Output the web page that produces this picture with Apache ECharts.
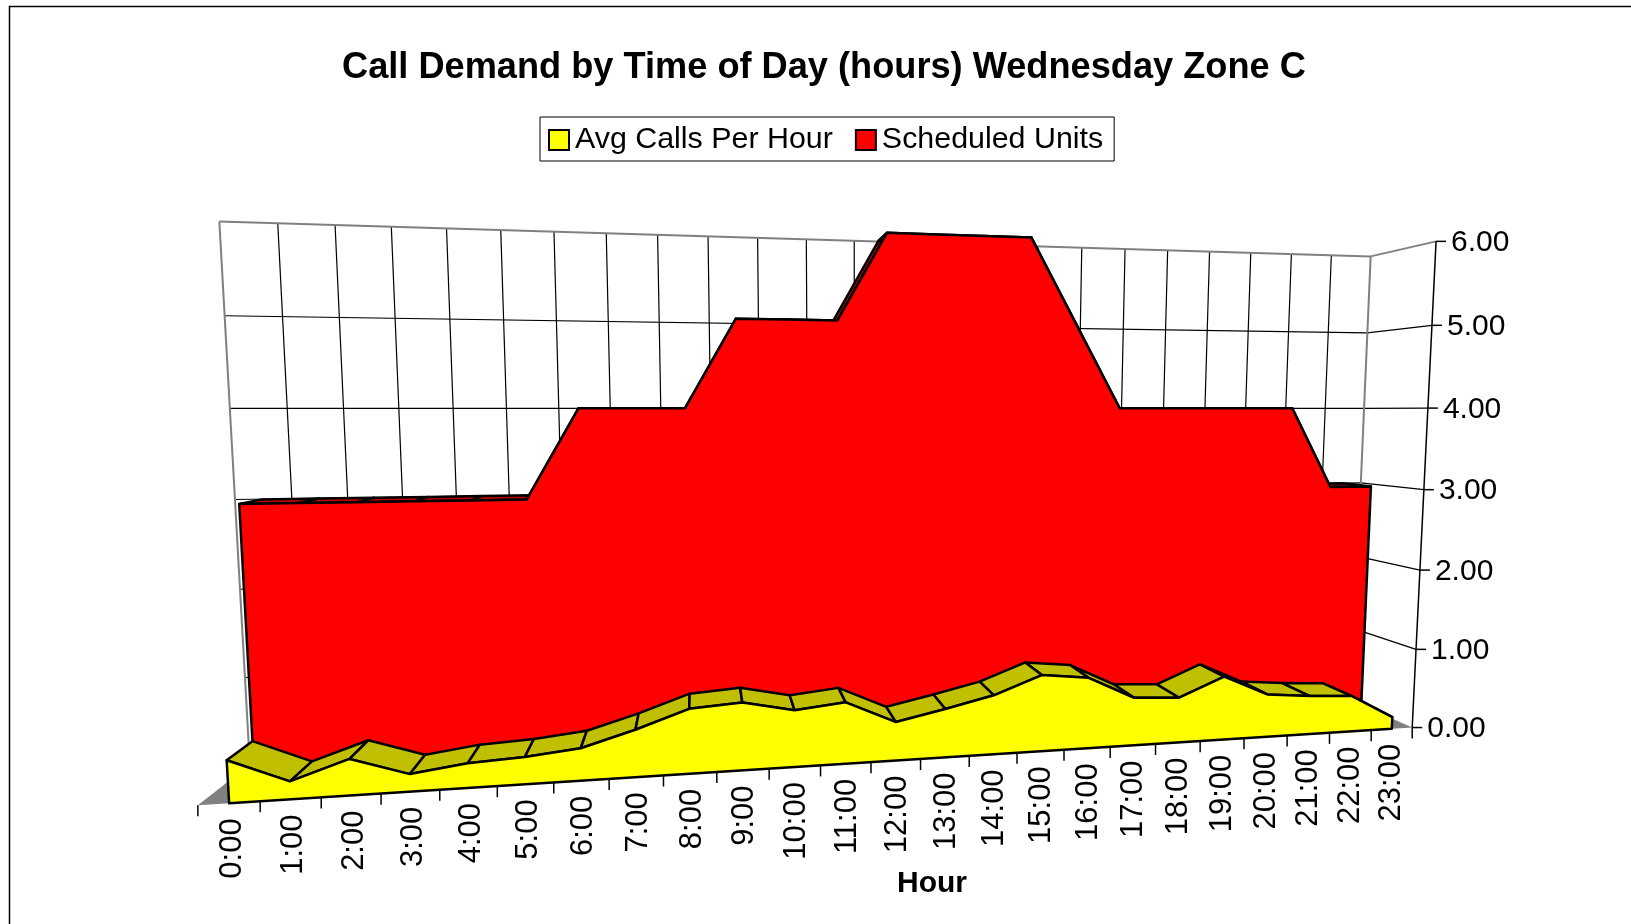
<!DOCTYPE html>
<html>
<head>
<meta charset="utf-8">
<title>Call Demand by Time of Day</title>
<style>
  html, body { margin: 0; padding: 0; background: #fff; }
  #chart { width: 1631px; height: 924px; }
</style>
<script src="https://cdn.jsdelivr.net/npm/echarts@6/dist/echarts.min.js"></script>
</head>
<body>
<div id="chart"></div>
<script>
const hours = ['0:00', '1:00', '2:00', '3:00', '4:00', '5:00', '6:00', '7:00', '8:00', '9:00', '10:00', '11:00',
  '12:00', '13:00', '14:00', '15:00', '16:00', '17:00', '18:00', '19:00', '20:00', '21:00', '22:00', '23:00'];
const avgCalls = [0.45, 0.19, 0.39, 0.19, 0.27, 0.30, 0.36, 0.53, 0.73, 0.77, 0.65, 0.71,
  0.45, 0.57, 0.70, 0.91, 0.85, 0.58, 0.55, 0.78, 0.53, 0.48, 0.45, 0.15];
const scheduledUnits = [3, 3, 3, 3, 3, 3, 4, 4, 4, 5, 5, 5, 6, 6, 6, 6, 5, 4, 4, 4, 4, 4, 3, 3];
const valueTicks = [0, 1, 2, 3, 4, 5, 6];
const FONT = '"Liberation Sans", Arial, sans-serif';

// Camera: box corners (band, value, depth) seen on the page, solved for a perspective matrix below
const cameraFit = [
  [0, 0, 0, 197.6, 805], [12, 0, 0, 871, 763], [24, 0, 0, 1412.3, 726.7],
  [24, 2, 0, 1420, 570], [24, 4, 0, 1428, 408], [24, 6, 0, 1436, 242],
  [0, 0, 1, 250, 765], [24, 0, 1, 1351, 701], [0, 4, 1, 231, 408], [24, 4, 1, 1364.7, 408],
  [6, 4, 1, 558.6, 408], [18, 4, 1, 1120.9, 408], [0, 6, 1, 218.6, 221.7], [24, 6, 1, 1370.7, 256.7]
];

function solveCamera(points) {
  const n = 11;
  const A = Array.from({ length: n }, () => new Array(n + 1).fill(0));
  const addRow = (row, rhs) => {
    for (let i = 0; i < n; i++) {
      for (let j = 0; j < n; j++) A[i][j] += row[i] * row[j];
      A[i][n] += row[i] * rhs;
    }
  };
  points.forEach(([x, y, z, u, v]) => {
    const X = x / 24, Y = y / 6, U = u / 1000, V = v / 1000;
    addRow([X, Y, z, 1, 0, 0, 0, 0, -U * X, -U * Y, -U * z], U);
    addRow([0, 0, 0, 0, X, Y, z, 1, -V * X, -V * Y, -V * z], V);
  });
  for (let c = 0; c < n; c++) {
    let best = c;
    for (let r = c + 1; r < n; r++) if (Math.abs(A[r][c]) > Math.abs(A[best][c])) best = r;
    [A[c], A[best]] = [A[best], A[c]];
    for (let r = 0; r < n; r++) {
      if (r === c) continue;
      const f = A[r][c] / A[c][c];
      for (let k = c; k <= n; k++) A[r][k] -= f * A[c][k];
    }
  }
  return A.map((row, i) => row[n] / row[i]);
}

const cam = solveCamera(cameraFit);

function project(x, y, z) {
  const X = x / 24, Y = y / 6;
  const w = cam[8] * X + cam[9] * Y + cam[10] * z + 1;
  return [
    1000 * (cam[0] * X + cam[1] * Y + cam[2] * z + cam[3]) / w,
    1000 * (cam[4] * X + cam[5] * Y + cam[6] * z + cam[7]) / w
  ];
}

// The hidden grid holds the scales; its pixels are turned back into box units for the camera
const GRID = { left: 100, top: 100, width: 1200, height: 600 };
function toBox(api, hourIndex, value) {
  const p = api.coord([hourIndex, value]);
  return [(p[0] - GRID.left) / GRID.width * 24, (GRID.top + GRID.height - p[1]) / GRID.height * 6];
}

function seg(a, b, color, width, z2) {
  return {
    type: 'line',
    shape: { x1: a[0], y1: a[1], x2: b[0], y2: b[1] },
    style: { stroke: color, lineWidth: width },
    z2: z2 || 0
  };
}

function poly(points, fill, z2) {
  return {
    type: 'polygon',
    shape: { points },
    style: { fill, stroke: '#000', lineWidth: 2.5, lineJoin: 'round' },
    z2: z2 || 0
  };
}

// Floor, back wall, side wall and both axes
function renderFrame(params, api) {
  const kids = [];
  kids.push({
    type: 'polygon',
    shape: { points: [project(0, 0, 0), project(24, 0, 0), project(24, 0, 1), project(0, 0, 1)] },
    style: { fill: '#808080' }
  });
  for (let i = 1; i < 24; i++) {
    kids.push(seg(project(i, 0, 1), project(i, 6, 1), '#000', 1.2));
  }
  valueTicks.slice(1, -1).forEach(v => {
    const y = toBox(api, 0, v)[1];
    kids.push(seg(project(0, y, 1), project(24, y, 1), '#000', 1.2));
    kids.push(seg(project(24, y, 1), project(24, y, 0), '#000', 1.2));
  });
  kids.push(seg(project(0, 6, 1), project(24, 6, 1), '#808080', 2));
  kids.push(seg(project(24, 6, 1), project(24, 6, 0), '#808080', 2));
  kids.push(seg(project(0, 0, 1), project(0, 6, 1), '#808080', 2));
  kids.push(seg(project(24, 0, 1), project(24, 6, 1), '#808080', 2));

  kids.push(seg(project(24, 0, 0), project(24, 6, 0), '#000', 1.5));
  valueTicks.forEach(v => {
    const y = toBox(api, 0, v)[1];
    const p = project(24, y, 0);
    kids.push(seg(p, [p[0] + 10, p[1]], '#000', 1.5));
    kids.push({
      type: 'text', x: p[0] + 15, y: p[1] + 1.5,
      style: { text: v.toFixed(2), font: '30px ' + FONT, fill: '#000', align: 'left', verticalAlign: 'middle' }
    });
  });
  for (let i = 0; i <= 24; i++) {
    const p = project(i, 0, 0);
    kids.push(seg(p, [p[0], p[1] + 11], '#000', 1.5));
  }
  hours.forEach((h, i) => {
    const p = project(toBox(api, i, 0)[0], 0, 0);
    kids.push({
      type: 'text', x: p[0] + 3 * (1 - i / 23), y: p[1] + 15, rotation: Math.PI / 2,
      style: { text: h, font: '31px ' + FONT, fill: '#000', align: 'right', verticalAlign: 'middle' }
    });
  });
  return { type: 'group', children: kids };
}

// One area band: a strip on top per hour, front face over them on the last item
function areaRenderer(values, zFront, zBack, frontColor, topColor) {
  return function (params, api) {
    const i = params.dataIndex;
    const kids = [];
    const cur = toBox(api, api.value(0), api.value(1));
    if (i < values.length - 1) {
      const next = toBox(api, i + 1, values[i + 1]);
      kids.push(poly([
        project(cur[0], cur[1], zFront), project(next[0], next[1], zFront),
        project(next[0], next[1], zBack), project(cur[0], cur[1], zBack)
      ], topColor, i < 12 ? i : 24 - i));
    } else {
      const pts = values.map((v, k) => {
        const b = toBox(api, k, v);
        return project(b[0], b[1], zFront);
      });
      const first = toBox(api, 0, 0), last = toBox(api, values.length - 1, 0);
      pts.push(project(last[0], 0, zFront), project(first[0], 0, zFront));
      kids.push(poly(pts, frontColor, 100));
    }
    return { type: 'group', children: kids };
  };
}

const chart = echarts.init(document.getElementById('chart'), null, { renderer: 'canvas' });
chart.setOption({
  animation: false,
  backgroundColor: '#fff',
  title: {
    text: 'Call Demand by Time of Day (hours) Wednesday Zone C',
    left: 337, top: 45,
    textStyle: { fontFamily: FONT, fontSize: 36.2, fontWeight: 'bold', color: '#000' }
  },
  legend: {
    data: ['Avg Calls Per Hour', 'Scheduled Units'],
    left: 540, top: 117,
    padding: [8, 11, 6, 8],
    itemGap: 22, itemWidth: 20, itemHeight: 20,
    icon: 'rect',
    borderColor: '#000', borderWidth: 1,
    textStyle: { fontFamily: FONT, fontSize: 30.4, color: '#000', padding: [3, 0, 0, 1] }
  },
  grid: { show: false, left: GRID.left, top: GRID.top, width: GRID.width, height: GRID.height },
  xAxis: { type: 'category', data: hours, boundaryGap: true, show: false },
  yAxis: { type: 'value', min: 0, max: 6, interval: 1, show: false },
  graphic: [
    {
      type: 'rect', shape: { x: 9.5, y: 6.5, width: 1700, height: 1000 },
      style: { fill: 'none', stroke: '#000', lineWidth: 1.5 }, silent: true
    },
    {
      type: 'text', x: 932, y: 884,
      style: { text: 'Hour', font: 'bold 30px ' + FONT, fill: '#000', align: 'center', verticalAlign: 'middle' }
    }
  ],
  series: [
    {
      type: 'custom', name: 'frame', silent: true, z: 1,
      data: [[hours[0], 0]], encode: { x: 0, y: 1 },
      renderItem: renderFrame
    },
    {
      type: 'custom', name: 'Scheduled Units', silent: true, z: 2,
      itemStyle: { color: '#ff0000', borderColor: '#000', borderWidth: 2 },
      data: scheduledUnits.map((v, i) => [hours[i], v]), encode: { x: 0, y: 1 },
      renderItem: areaRenderer(scheduledUnits, 0.5, 0.97, '#ff0000', '#c00000')
    },
    {
      type: 'custom', name: 'Avg Calls Per Hour', silent: true, z: 3,
      itemStyle: { color: '#ffff00', borderColor: '#000', borderWidth: 2 },
      data: avgCalls.map((v, i) => [hours[i], v]), encode: { x: 0, y: 1 },
      renderItem: areaRenderer(avgCalls, 0, 0.5, '#ffff00', '#c0c000')
    }
  ]
});
</script>
</body>
</html>
